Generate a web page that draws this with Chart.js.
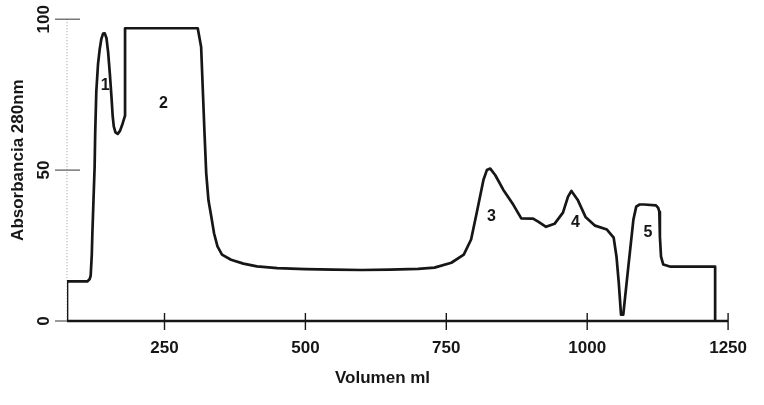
<!DOCTYPE html>
<html>
<head>
<meta charset="utf-8">
<script src="https://cdn.jsdelivr.net/npm/chart.js@4/dist/chart.umd.min.js"></script>
<style>
  html, body { margin: 0; padding: 0; background: #fff; }
  #wrap { width: 764px; height: 405px; }
</style>
</head>
<body>
<div id="wrap"><canvas id="cv"></canvas></div>
<script>
// elution profile
const volumeMl = [
    77, 77, 113, 117, 119, 121, 122, 124, 126, 127, 129, 132, 135, 138, 141, 144,
    147, 150, 153, 156, 158, 160, 163, 167, 171, 175, 179, 180, 180, 309,
    315, 321, 324, 328, 333, 338, 344, 352, 368, 390, 414, 450, 500, 550,
    600, 650, 700, 729, 759, 781, 794, 804, 816, 822, 828, 837, 851, 869, 883,
    904, 913, 927, 942, 957, 966, 972, 983, 997, 1014, 1035, 1047, 1052,
    1056, 1060, 1064, 1073, 1082, 1087, 1093, 1101, 1122, 1126, 1128, 1129,
    1131, 1135, 1148, 1227, 1227
];
const absorbance = [
    0, 13.1, 13.1, 13.8, 15, 22, 29, 40, 51, 62, 76, 85, 90, 93.5, 95.2, 95.3,
    93.8, 89, 82, 74, 68, 64.5, 62.5, 62, 63, 65, 67.5, 68, 97, 97,
    90.8, 62.2, 49, 40, 34.6, 29, 24.7, 22, 20.3, 19, 18.1, 17.5, 17.2, 17,
    16.9, 17, 17.3, 17.7, 19.3, 22, 27, 35.9, 46.8, 50, 50.5, 48.3, 43.5, 38.5, 34,
    33.9, 32.9, 31.2, 32.2, 35.9, 41.2, 43.1, 40.2, 34.5, 31.6, 30.3, 27.6, 21.3,
    12.7, 2.1, 2.1, 18, 33.6, 37.9, 38.6, 38.6, 38.3, 37.5, 36.2, 28,
    21.3, 18.7, 18, 18, 0
];

const xTicks = [250, 500, 750, 1000, 1250];
const yTicks = [0, 50, 100];
const xTitle = 'Volumen ml';
const yTitle = 'Absorbancia 280nm';

// peak numbers
const peakNames = ['1', '2', '3', '4', '5'];
const peakX = [145, 248, 830, 979, 1108];
const peakY = [78, 72, 34.6, 32.5, 29.3];

const ink = '#161616';
const fontFam = '"Liberation Sans", Arial, sans-serif';

const axesPlugin = {
    id: 'axes',
    beforeDatasetsDraw(chart) {
        const ctx = chart.ctx;
        const xs = chart.scales.x, ys = chart.scales.y;
        const y0 = ys.getPixelForValue(0);
        ctx.save();
        // faint dotted y axis
        ctx.strokeStyle = '#9a9a9a';
        ctx.lineWidth = 1;
        ctx.setLineDash([1, 2]);
        ctx.beginPath();
        ctx.moveTo(xs.left, ys.top);
        ctx.lineTo(xs.left, y0);
        ctx.stroke();
        ctx.setLineDash([]);
        // y ticks crossing the axis
        ctx.strokeStyle = '#555';
        ctx.lineWidth = 1.2;
        yTicks.forEach(v => {
            const py = ys.getPixelForValue(v);
            ctx.beginPath();
            ctx.moveTo(xs.left - 12, py);
            ctx.lineTo(xs.left + 13, py);
            ctx.stroke();
        });
        // x axis
        ctx.strokeStyle = ink;
        ctx.lineWidth = 2.6;
        ctx.beginPath();
        ctx.moveTo(xs.left, y0);
        ctx.lineTo(xs.right, y0);
        ctx.stroke();
        ctx.lineWidth = 1.4;
        xTicks.forEach(v => {
            const px = xs.getPixelForValue(v);
            ctx.beginPath();
            ctx.moveTo(px, y0 - 8);
            ctx.lineTo(px, y0 + 9);
            ctx.stroke();
        });
        ctx.restore();
    },
    afterDatasetsDraw(chart) {
        const ctx = chart.ctx;
        const xs = chart.scales.x, ys = chart.scales.y;
        const area = chart.chartArea;
        ctx.save();
        ctx.fillStyle = ink;
        ctx.font = 'bold 16px ' + fontFam;
        ctx.textAlign = 'center';
        ctx.textBaseline = 'middle';
        peakNames.forEach((t, i) => {
            ctx.fillText(t, xs.getPixelForValue(peakX[i]), ys.getPixelForValue(peakY[i]));
        });
        // axis titles
        ctx.font = 'bold 17px ' + fontFam;
        ctx.fillText(xTitle, (area.left + area.right) / 2 - 15, 378);
        ctx.translate(18, (area.top + area.bottom) / 2 - 10);
        ctx.rotate(-Math.PI / 2);
        ctx.fillText(yTitle, 0, 0);
        ctx.restore();
    }
};

new Chart(document.getElementById('cv'), {
    type: 'line',
    data: {
        datasets: [{
            data: volumeMl.map((v, i) => ({ x: v, y: absorbance[i] })),
            borderColor: ink,
            borderWidth: 2.7,
            borderJoinStyle: 'round',
            borderCapStyle: 'round',
            pointRadius: 0,
            tension: 0,
            fill: false
        }]
    },
    options: {
        responsive: true,
        maintainAspectRatio: false,
        animation: false,
        layout: { padding: { top: 19, right: 26, left: 0, bottom: 0 } },
        plugins: { legend: { display: false }, tooltip: { enabled: false } },
        scales: {
            x: {
                type: 'linear',
                min: 77,
                max: 1250,
                border: { display: false },
                grid: { display: false, drawTicks: false },
                afterBuildTicks: s => { s.ticks = xTicks.map(v => ({ value: v })); },
                afterFit: s => { s.height = 84; },
                ticks: {
                    color: ink,
                    padding: 17,
                    maxRotation: 0,
                    callback: v => String(v),
                    font: { family: fontFam, size: 17, weight: 'bold' }
                }
            },
            y: {
                type: 'linear',
                min: 0,
                max: 100,
                border: { display: false },
                grid: { display: false, drawTicks: false },
                afterBuildTicks: s => { s.ticks = yTicks.map(v => ({ value: v })); },
                afterFit: s => { s.width = 67; },
                ticks: {
                    color: ink,
                    padding: 9,
                    minRotation: 90,
                    maxRotation: 90,
                    crossAlign: 'center',
                    callback: v => String(v),
                    font: { family: fontFam, size: 17, weight: 'bold' }
                }
            }
        }
    },
    plugins: [axesPlugin]
});
</script>
</body>
</html>
